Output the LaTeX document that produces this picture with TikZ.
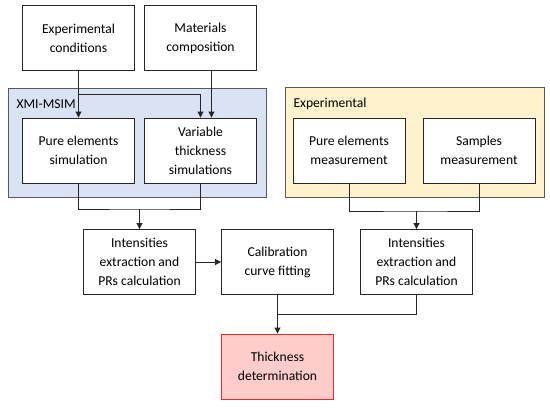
\documentclass[tikz,border=0pt]{standalone}
\usepackage{fontspec}
\setmainfont{Carlito}
\usepackage{xcolor}
\usepackage{tikz}
\usetikzlibrary{arrows.meta,positioning,calc}
\definecolor{simfill}{RGB}{218,227,243}
\definecolor{expfill}{RGB}{255,242,204}
\definecolor{resfill}{RGB}{255,204,204}
\definecolor{resline}{RGB}{240,40,40}

\begin{document}
\begin{tikzpicture}[x=1pt,y=-1pt,
  box/.style={draw=black!85,line width=0.9pt,fill=white,align=center,
    minimum width=112pt,minimum height=65pt,inner sep=2pt,
    font=\fontsize{13.6}{19}\selectfont},
  panel/.style={draw=black!65,line width=0.9pt,inner sep=0pt},
  tag/.style={anchor=west,font=\fontsize{13.6}{19}\selectfont},
  arr/.style={-{Triangle[length=6pt,width=6pt]},line width=0.9pt,black!85},
  wire/.style={line width=0.9pt,black!85}]
\useasboundingbox (0,0) rectangle (550,408);
% group panels
\node[panel,fill=simfill,minimum width=258pt,minimum height=109pt] (xmi) at (137,142.5) {};
\node[tag] (xmitag) at (13,104) {XMI-MSIM};
\node[panel,fill=expfill,minimum width=259pt,minimum height=110pt] (expgrp) at (414.5,142) {};
\node[tag] (exptag) at (290,103.5) {Experimental};
% boxes
\foreach \n/\x/\y/\lab in {
  cond/78.5/38/{Experimental\\conditions},
  comp/200.5/38/{Materials\\composition},
  pes/78.5/150.5/{Pure elements\\simulation},
  vts/200.5/150.5/{Variable\\thickness\\simulations},
  pem/349/150.5/{Pure elements\\measurement},
  sm/479/150.5/{Samples\\measurement},
  intl/139.5/262/{Intensities\\extraction and\\PRs calculation},
  cal/277.5/262/{Calibration\\curve fitting},
  intr/416.5/262/{Intensities\\extraction and\\PRs calculation}}{
  \node[box] (\n) at (\x,\y) {\lab};
}
\node[box,fill=resfill,draw=resline] (thk) at (277.5,366.5) {Thickness\\determination};
% inputs
\draw[arr] (cond.south) -- (pes.north);
\coordinate (br) at ($(cond.south)+(0,23.5)$);
\draw[arr] (br) -| (vts.north);
\draw[arr] ([xshift=11pt]comp.south) -- ([xshift=11pt]vts.north);
% joins
\coordinate (simj) at (139.5,209);
\draw[wire] (pes.south) |- (simj) -| (vts.south);
\draw[arr] (simj) -- (intl.north);
\coordinate (expj) at (416.5,211);
\draw[wire] (pem.south) |- (expj) -| (sm.south);
\draw[arr] (expj) -- (intr.north);
\draw[arr] (intl) -- (cal);
\coordinate (calj) at (277.5,314);
\draw[wire] (intr.south) |- (calj);
\draw[arr] (cal.south) -- (thk.north);
\end{tikzpicture}
\end{document}
